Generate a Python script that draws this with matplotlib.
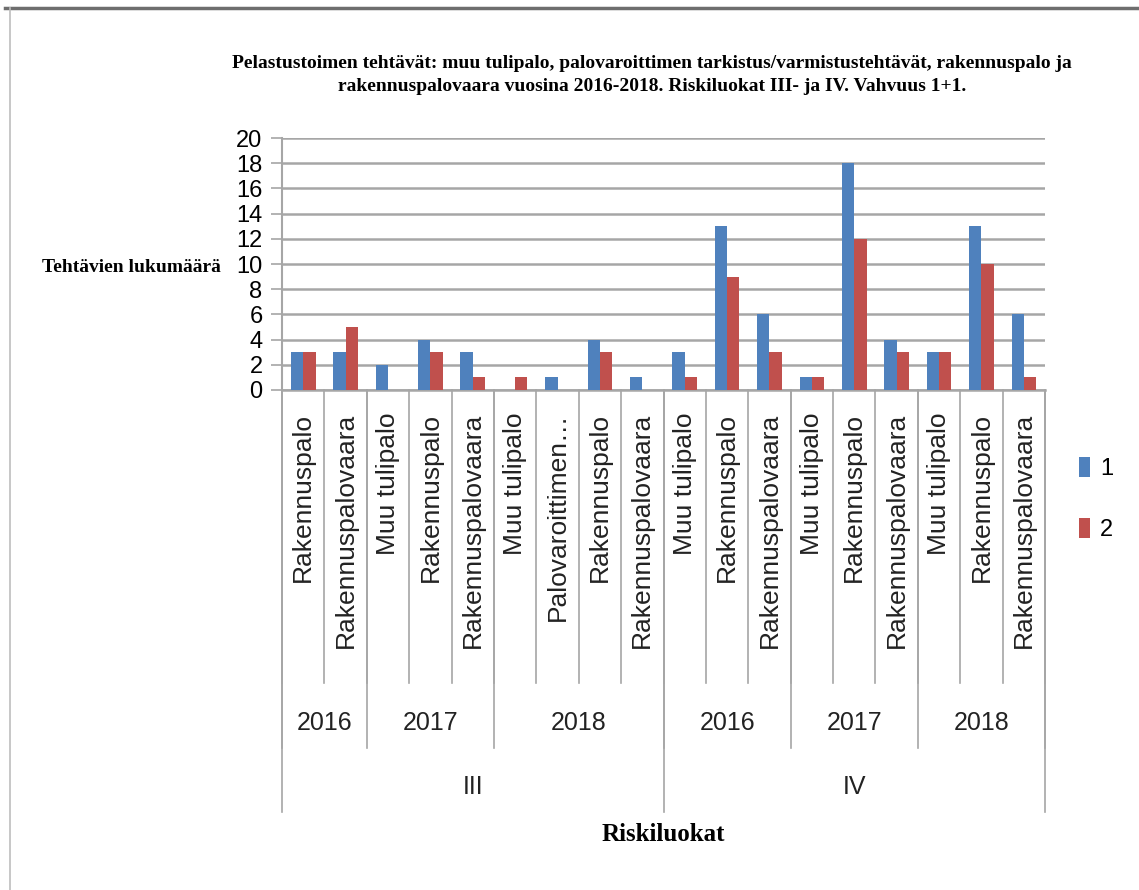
import numpy as np
import matplotlib.pyplot as plt
from matplotlib.lines import Line2D

# Pelastustoimen tehtävät riskiluokittain ja vuosittain
riskiluokat = ['III', 'IV']
vuodet = ['2016', '2017', '2018']
tehtavat = [
    # III
    ['Rakennuspalo', 'Rakennuspalovaara'],
    ['Muu tulipalo', 'Rakennuspalo', 'Rakennuspalovaara'],
    ['Muu tulipalo', 'Palovaroittimen…', 'Rakennuspalo', 'Rakennuspalovaara'],
    # IV
    ['Muu tulipalo', 'Rakennuspalo', 'Rakennuspalovaara'],
    ['Muu tulipalo', 'Rakennuspalo', 'Rakennuspalovaara'],
    ['Muu tulipalo', 'Rakennuspalo', 'Rakennuspalovaara'],
]
sarja1 = [3, 3, 2, 4, 3, 0, 1, 4, 1, 3, 13, 6, 1, 18, 4, 3, 13, 6]
sarja2 = [3, 5, 0, 3, 1, 1, 0, 3, 0, 1, 9, 3, 1, 12, 3, 3, 10, 1]

SININEN = '#4F81BD'
PUNAINEN = '#C0504D'
HARMAA = '#A6A6A6'

nimet = [t for ryhma in tehtavat for t in ryhma]
n = len(nimet)
x = np.arange(n)
lev = 0.29

fig = plt.figure(figsize=(11.39, 8.90), dpi=100)
ax = fig.add_axes([0.2476, 0.5618, 0.6699, 0.2831])

ax.bar(x - lev / 2, sarja1, lev, color=SININEN, label='1', zorder=3)
ax.bar(x + lev / 2, sarja2, lev, color=PUNAINEN, label='2', zorder=3)

ax.set_xlim(-0.5, n - 0.5)
ax.set_ylim(0, 20)
ax.set_yticks(range(0, 21, 2))
ax.yaxis.grid(True, color=HARMAA, linewidth=1.8)
ax.set_axisbelow(True)
ax.tick_params(axis='y', length=8, width=1.2, color=HARMAA, pad=6,
               labelsize=17, labelfontfamily='Liberation Sans')
ax.set_xticks([])
for s in ['top', 'right']:
    ax.spines[s].set_visible(False)
ax.spines['left'].set_color(HARMAA)
ax.spines['left'].set_linewidth(1.5)
ax.spines['bottom'].set_color(HARMAA)
ax.spines['bottom'].set_linewidth(1.8)

# monitasoinen luokka-akseli
tr = ax.get_xaxis_transform()
y_teht, y_vuosi, y_ryhma = -1.163, -1.421, -1.675

for i, nimi in enumerate(nimet):
    ax.text(i, -0.09, nimi, transform=tr, rotation=90, ha='center', va='top',
            fontsize=19, family='Liberation Sans', color='#222222')

rajat = np.cumsum([0] + [len(r) for r in tehtavat]) - 0.5
for xb in np.arange(n + 1) - 0.5:
    ax.plot([xb, xb], [0, y_teht], transform=tr, color=HARMAA, lw=1.2, clip_on=False)
for j, xb in enumerate(rajat):
    ax.plot([xb, xb], [0, y_vuosi], transform=tr, color=HARMAA, lw=1.2, clip_on=False)
    if j < len(tehtavat):
        ax.text((rajat[j] + rajat[j + 1]) / 2, -1.321, vuodet[j % 3], transform=tr,
                ha='center', va='center', fontsize=18, family='Liberation Sans',
                color='#222222')
ryhmarajat = [rajat[0], rajat[3], rajat[6]]
for k, xb in enumerate(ryhmarajat):
    ax.plot([xb, xb], [0, y_ryhma], transform=tr, color=HARMAA, lw=1.2, clip_on=False)
    if k < len(riskiluokat):
        ax.text((ryhmarajat[k] + ryhmarajat[k + 1]) / 2, -1.575, riskiluokat[k],
                transform=tr, ha='center', va='center', fontsize=18,
                family='Liberation Sans', color='#222222')

ax.text(0.5, -1.766, 'Riskiluokat', transform=ax.transAxes, ha='center',
        va='center', fontsize=18, fontweight='bold', family='Liberation Serif')

fig.text(0.0369, 0.699, 'Tehtävien lukumäärä', ha='left', va='center',
         fontsize=14, fontweight='bold', family='Liberation Serif')

fig.text(0.5725, 0.9157,
         'Pelastustoimen tehtävät: muu tulipalo, palovaroittimen tarkistus/varmistustehtävät, rakennuspalo ja\n'
         'rakennuspalovaara vuosina 2016-2018. Riskiluokat III- ja IV. Vahvuus 1+1.',
         ha='center', va='center', fontsize=14, fontweight='bold',
         family='Liberation Serif', linespacing=1.45)

ax.legend(loc='center', bbox_to_anchor=(0.962, 0.439), bbox_transform=fig.transFigure,
          frameon=False, handlelength=0.5, handleheight=0.9,
          handletextpad=0.4, labelspacing=1.6, prop={'family': 'Liberation Sans', 'size': 17})

# kehys kuvan ympärillä
fig.add_artist(Line2D([5 / 1139, 1], [1 - 8 / 890] * 2, color='#6E6E6E', lw=2.5))
fig.add_artist(Line2D([10 / 1139] * 2, [0, 1 - 8 / 890], color='#BDBDBD', lw=1.2))

fig.savefig('out.png', dpi=100)
